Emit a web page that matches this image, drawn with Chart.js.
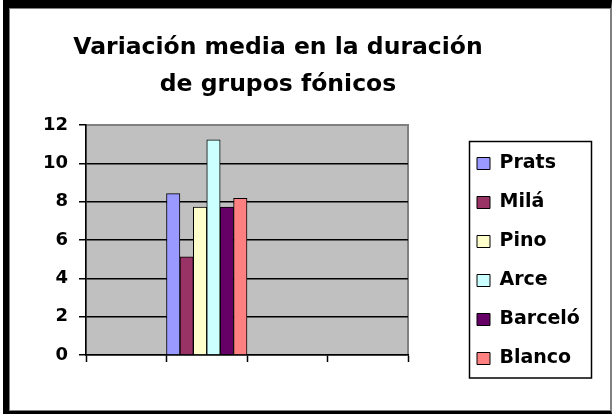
<!DOCTYPE html>
<html>
<head>
<meta charset="utf-8">
<script src="https://cdn.jsdelivr.net/npm/chart.js@4/dist/chart.umd.min.js"></script>
<style>
  html, body { margin: 0; padding: 0; background: #fff; }
  #wrap { position: relative; width: 613px; height: 414px; overflow: hidden; }
  #c { position: absolute; left: 0; top: 0; }
  #frame {
    position: absolute; left: 3px; top: 0; width: 609px; height: 414px;
    box-sizing: border-box;
    border-top: 8px solid #000; border-left: 6px solid #000;
    border-bottom: 3px solid #000; border-right: 1px solid #808080;
    box-shadow: inset 0 0 0 1px #808080;
    pointer-events: none;
  }
</style>
</head>
<body>
<div id="wrap">
  <canvas id="c" width="613" height="414"></canvas>
  <div id="frame"></div>
</div>
<script>
// ---- data ----
const categories = ['', '', '', ''];
const seriesNames = ['Prats', 'Milá', 'Pino', 'Arce', 'Barceló', 'Blanco'];
const seriesValues = [8.42, 5.12, 7.72, 11.23, 7.72, 8.18];
const seriesColors = ['#9999FF', '#993366', '#FFFFCC', '#CCFFFF', '#660066', '#FF8080'];
const dataCategoryIndex = 1;
const titleLines = ['Variación media en la duración', 'de grupos fónicos'];
const yTicks = [0, 2, 4, 6, 8, 10, 12];

Chart.defaults.font.family = "'DejaVu Sans', sans-serif";
Chart.defaults.color = '#000';

const datasets = seriesNames.map((name, i) => ({
  label: name,
  data: categories.map((_, k) => (k === dataCategoryIndex ? seriesValues[i] : null)),
  backgroundColor: seriesColors[i],
  borderColor: '#000',
  borderWidth: 1,
  categoryPercentage: 1.0,
  barPercentage: 1.0
}));

const plotBg = {
  id: 'plotBg',
  beforeDraw(chart) {
    const {ctx, chartArea: a} = chart;
    ctx.save();
    ctx.fillStyle = '#C0C0C0';
    ctx.fillRect(a.left, a.top, a.right - a.left, a.bottom - a.top);
    ctx.strokeStyle = '#808080';
    ctx.lineWidth = 2;
    ctx.strokeRect(a.left, a.top, a.right - a.left, a.bottom - a.top);
    ctx.restore();
  }
};

const legendPlace = {
  id: 'legendPlace',
  afterLayout(chart) {
    const lg = chart.legend;
    if (!lg) return;
    lg.left = 457; lg.right = 613; lg.width = 156;
    lg.top = 134; lg.bottom = 414; lg.height = 280;
  },
  afterDraw(chart) {
    const ctx = chart.ctx;
    ctx.save();
    ctx.strokeStyle = '#000';
    ctx.lineWidth = 1.5;
    ctx.strokeRect(469.5, 141.5, 122, 236.5);
    ctx.restore();
  }
};

new Chart(document.getElementById('c'), {
  type: 'bar',
  data: { labels: categories, datasets },
  options: {
    responsive: false,
    animation: false,
    events: [],
    layout: { padding: { left: 28, right: 85, top: 10, bottom: 39 } },
    plugins: {
      title: {
        display: true,
        text: titleLines,
        color: '#000',
        font: { family: "'DejaVu Sans', sans-serif", weight: 'bold', size: 23.5, lineHeight: '37px' },
        padding: { top: 19.5, bottom: 21.5 }
      },
      legend: {
        display: true,
        position: 'right',
        align: 'start',
        maxWidth: 120,
        labels: {
          color: '#000',
          font: { family: "'DejaVu Sans', sans-serif", weight: 'bold', size: 19 },
          boxWidth: 13,
          boxHeight: 12,
          padding: 20
        }
      },
      tooltip: { enabled: false }
    },
    scales: {
      x: {
        type: 'category',
        offset: true,
        ticks: { display: false },
        grid: {
          offset: true,
          drawOnChartArea: false,
          drawTicks: true,
          tickLength: 7,
          tickColor: '#000',
          tickWidth: 1.5
        },
        border: { display: true, color: '#000', width: 1.5 },
        afterFit(scale) { scale.height = 20; }
      },
      y: {
        min: 0,
        max: 12,
        afterBuildTicks(scale) { scale.ticks = yTicks.map(v => ({ value: v })); },
        ticks: {
          padding: 11,
          color: '#000',
          font: { family: "'DejaVu Sans', sans-serif", weight: 'bold', size: 18 }
        },
        grid: {
          drawOnChartArea: true,
          drawTicks: true,
          tickLength: 7,
          tickColor: '#000',
          tickWidth: 1.5,
          lineWidth: 1.5,
          color: ctx => (ctx.tick && ctx.tick.value === 12 ? '#808080' : (ctx.tick && ctx.tick.value === 0 ? 'rgba(0,0,0,0)' : '#000'))
        },
        border: { display: true, color: '#000', width: 1.5 },
        afterFit(scale) { scale.width = 58; }
      }
    }
  },
  plugins: [plotBg, legendPlace]
});
</script>
</body>
</html>
